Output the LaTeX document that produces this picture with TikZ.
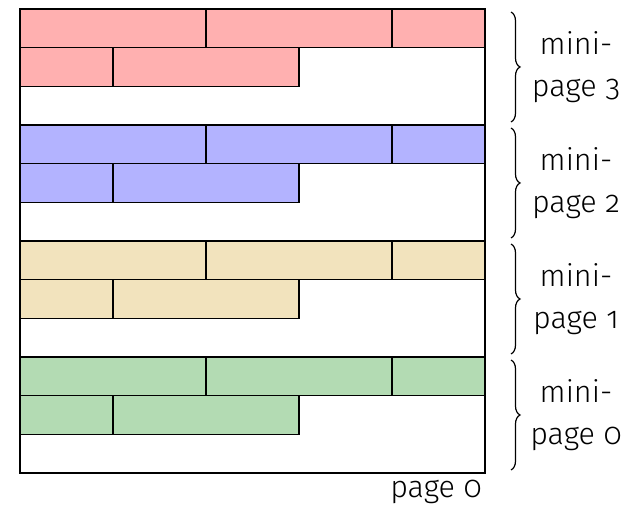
\documentclass[tikz,border=0pt]{standalone}
\usepackage{fontspec}
\setmainfont{Fira Sans}[UprightFont={* Light}, Numbers=OldStyle]
\usetikzlibrary{decorations.pathreplacing}
\definecolor{fillred}{HTML}{FFB0B0}
\definecolor{fillblue}{HTML}{B3B3FF}
\definecolor{filltan}{HTML}{F2E3BD}
\definecolor{fillgreen}{HTML}{B3DBB3}
\tikzset{
  cell/.style={draw=black, line width=1.6pt},
  frame/.style={draw=black, line width=2.6pt},
  sep/.style={draw=black, line width=2.6pt},
  bracket/.style={decorate, decoration={brace, amplitude=9pt}, line width=1.2pt},
  label/.style={font=\fontsize{30.5}{42}\selectfont, align=center, text=black},
}
\begin{document}
\begin{tikzpicture}[x=1pt, y=-1pt]
\useasboundingbox (0,0) rectangle (634,510);
% geometry of the page: 4 minipages of 3 rows each
\def\xl{20}\def\xr{485}\def\yt{9}\def\bh{116}\def\rh{38.67}\def\u{93}
\foreach \k/\col/\num in {0/fillred/3, 1/fillblue/2, 2/filltan/1, 3/fillgreen/0} {
  \pgfmathsetmacro{\top}{\yt+\k*\bh}
  \pgfmathsetmacro{\mid}{\top+\rh}
  \pgfmathsetmacro{\low}{\top+2*\rh}
  % first row: widths 2, 2, 1
  \draw[cell, fill=\col] (\xl,\top) rectangle (\xl+2*\u,\mid);
  \draw[cell, fill=\col] (\xl+2*\u,\top) rectangle (\xl+4*\u,\mid);
  \draw[cell, fill=\col] (\xl+4*\u,\top) rectangle (\xr,\mid);
  % second row: widths 1, 2
  \draw[cell, fill=\col] (\xl,\mid) rectangle (\xl+\u,\low);
  \draw[cell, fill=\col] (\xl+\u,\mid) rectangle (\xl+3*\u,\low);
  % minipage separator
  \draw[sep] (\xl,\top) -- (\xr,\top);
  % brace and label
  \draw[bracket] (511,\top+3) -- (511,\top+\bh-3);
  \node[label] (mp\num) at (576,\top+58) {mini-\\page \num};
}
\draw[frame] (\xl,\yt) rectangle (\xr,\yt+4*\bh);
\node[label] (pg) at (436,492) {page 0};
\end{tikzpicture}
\end{document}
